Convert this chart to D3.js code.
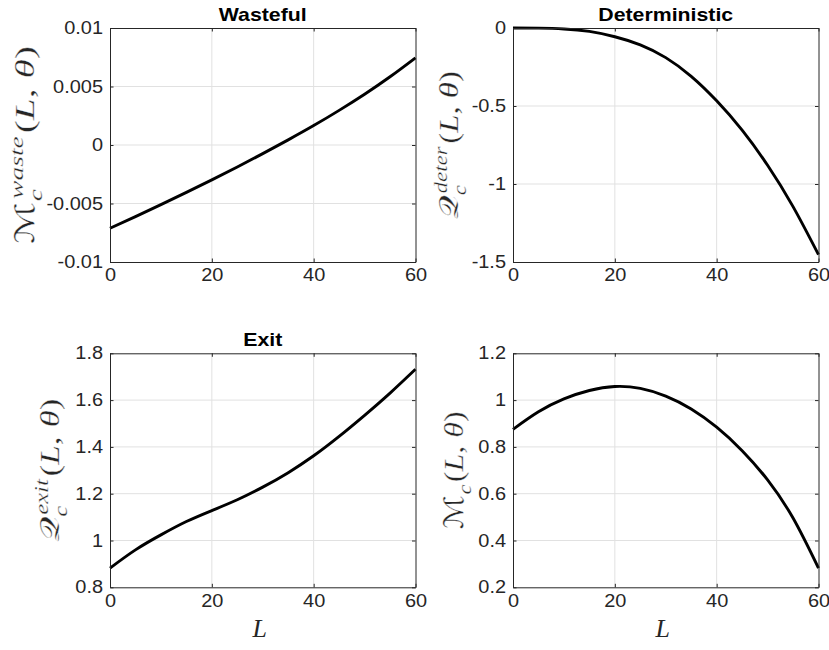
<!DOCTYPE html>
<html><head><meta charset="utf-8">
<script src="https://cdn.jsdelivr.net/npm/d3@7"></script>
<style>body{margin:0;background:#fff}</style>
</head><body>
<svg id="c" width="829" height="650" xmlns="http://www.w3.org/2000/svg"></svg>
<script>
// ---- data ----
const Lvals = [0, 5, 10, 15, 20, 25, 30, 35, 40, 45, 50, 55, 60];
const wasteful = [-0.00712, -0.00612, -0.00510, -0.00405, -0.00298, -0.00188, -0.00074, 0.00044, 0.00166, 0.00296, 0.00434, 0.00583, 0.00745];
const deterministic = [0, -0.001, -0.006, -0.022, -0.056, -0.108, -0.190, -0.310, -0.467, -0.655, -0.880, -1.145, -1.453];
const exitVals = [0.882, 0.960, 1.024, 1.081, 1.128, 1.174, 1.228, 1.290, 1.362, 1.445, 1.535, 1.630, 1.732];
const totalVals = [0.875, 0.950, 1.005, 1.041, 1.058, 1.050, 1.017, 0.962, 0.884, 0.784, 0.659, 0.496, 0.282];
const xTicks = [0, 20, 40, 60];
const xTickLabels = ["0", "20", "40", "60"];
const yTicksWaste = [-0.01, -0.005, 0, 0.005, 0.01];
const yLabelsWaste = ["-0.01", "-0.005", "0", "0.005", "0.01"];
const yTicksDeter = [-1.5, -1, -0.5, 0];
const yLabelsDeter = ["-1.5", "-1", "-0.5", "0"];
const yTicksExit = [0.8, 1, 1.2, 1.4, 1.6, 1.8];
const yLabelsExit = ["0.8", "1", "1.2", "1.4", "1.6", "1.8"];
const yTicksTotal = [0.2, 0.4, 0.6, 0.8, 1, 1.2];
const yLabelsTotal = ["0.2", "0.4", "0.6", "0.8", "1", "1.2"];
const titles = ["Wasteful", "Deterministic", "Exit", ""];
const xAxisLabel = "L";

// ---- layout ----
const W = 305.5, H = 234;
const panels = [
  {left: 110, top: 28, vals: wasteful, dom: [-0.01, 0.01], ticks: yTicksWaste, labels: yLabelsWaste, title: titles[0],
   ylab: {main: "\u2133", sub: "c", sup: "waste"}, ylabRight: 46, ylabLen: 198, xlab: false},
  {left: 513, top: 28, vals: deterministic, dom: [-1.5, 0], ticks: yTicksDeter, labels: yLabelsDeter, title: titles[1],
   ylab: {main: "\uD835\uDCAC", sub: "c", sup: "deter"}, ylabRight: 470, ylabLen: 148, xlab: false},
  {left: 110, top: 353.3, vals: exitVals, dom: [0.8, 1.8], ticks: yTicksExit, labels: yLabelsExit, title: titles[2],
   ylab: {main: "\uD835\uDCAC", sub: "c", sup: "exit"}, ylabRight: 71, ylabLen: 144, xlab: true},
  {left: 513, top: 353.3, vals: totalVals, dom: [0.2, 1.2], ticks: yTicksTotal, labels: yLabelsTotal, title: titles[3],
   ylab: {main: "\u2133", sub: "c", sup: null}, ylabRight: 475, ylabLen: 118, xlab: true}
];

const svg = d3.select("#c");
const AX = "#262626";
const TICKFONT = '17.5px "Liberation Sans", Arial, sans-serif';

function stretch(sel, k) {
  sel.each(function () {
    const len = this.getComputedTextLength();
    this.setAttribute("textLength", len * k);
    this.setAttribute("lengthAdjust", "spacingAndGlyphs");
  });
}

function mathLabel(spec, rightX, cy, targetLen) {
  const F = 27;
  const outer = svg.append("g");
  const inner = outer.append("g").attr("fill", AX).attr("stroke", "#fff").attr("stroke-width", 0.3);
  const mainT = inner.append("text").attr("x", 0).attr("y", 0)
    .style("font", `${F}px "DejaVu Serif", "DejaVu Sans", serif`).text(spec.main);
  const w1 = mainT.node().getComputedTextLength();
  let end = w1;
  const sub = inner.append("text").attr("x", w1 + 0.5).attr("y", F * 0.28)
    .style("font", `italic ${F * 0.7}px "Liberation Serif", serif`).text(spec.sub);
  end = Math.max(end, w1 + 0.5 + sub.node().getComputedTextLength());
  if (spec.sup) {
    const sup = inner.append("text").attr("x", w1 + 2).attr("y", -F * 0.42)
      .style("font", `italic ${F * 0.7}px "Liberation Serif", serif`).text(spec.sup);
    end = Math.max(end, w1 + 2 + sup.node().getComputedTextLength());
  }
  const p = inner.append("text").attr("x", end + 2).attr("y", 0)
    .style("font", `${F}px "Liberation Serif", serif`);
  p.append("tspan").text("(");
  p.append("tspan").style("font-style", "italic").text("L");
  p.append("tspan").text(", ");
  p.append("tspan").style("font-style", "italic").text("\u03B8");
  p.append("tspan").text(")");
  const b = inner.node().getBBox();
  const k = targetLen / b.width;
  outer.attr("transform",
    `translate(${rightX},${cy}) rotate(-90) scale(${k},1) translate(${-(b.x + b.width / 2)},${-(b.y + b.height)})`);
}

const x = d3.scaleLinear().domain([0, 60]).range([0, W]);

panels.forEach(pn => {
  const y = d3.scaleLinear().domain(pn.dom).range([H, 0]);
  const g = svg.append("g").attr("transform", `translate(${pn.left},${pn.top})`);

  // grid
  g.append("g").selectAll("line").data(xTicks.slice(1, -1)).join("line")
    .attr("x1", d => x(d)).attr("x2", d => x(d)).attr("y1", 0).attr("y2", H)
    .attr("stroke", "#e1e1e1").attr("stroke-width", 1);
  g.append("g").selectAll("line").data(pn.ticks.slice(1, -1)).join("line")
    .attr("x1", 0).attr("x2", W).attr("y1", d => y(d)).attr("y2", d => y(d))
    .attr("stroke", "#e1e1e1").attr("stroke-width", 1);

  // curve
  const line = d3.line().x((d, i) => x(Lvals[i])).y(d => y(d)).curve(d3.curveNatural);
  g.append("path").datum(pn.vals).attr("d", line).attr("fill", "none")
    .attr("stroke", "#000").attr("stroke-width", 2.9).attr("stroke-linejoin", "round");

  // axes
  const bottom = g.append("g").attr("transform", `translate(0,${H})`)
    .call(d3.axisBottom(x).tickValues(xTicks).tickFormat((d, i) => xTickLabels[i]).tickSizeInner(-3.5).tickSizeOuter(0).tickPadding(7));
  const left = g.append("g")
    .call(d3.axisLeft(y).tickValues(pn.ticks).tickFormat((d, i) => pn.labels[i]).tickSizeInner(-3.5).tickSizeOuter(0).tickPadding(7));
  const top = g.append("g")
    .call(d3.axisTop(x).tickValues(xTicks).tickFormat("").tickSizeInner(-3.5).tickSizeOuter(0));
  const right = g.append("g").attr("transform", `translate(${W},0)`)
    .call(d3.axisRight(y).tickValues(pn.ticks).tickFormat("").tickSizeInner(-3.5).tickSizeOuter(0));
  [bottom, left, top, right].forEach(a => {
    a.selectAll(".domain").attr("stroke", AX).attr("stroke-width", 1);
    a.selectAll(".tick line").attr("stroke", AX).attr("stroke-width", 1);
    a.selectAll("text").style("font", TICKFONT).attr("fill", AX);
  });
  stretch(bottom.selectAll("text"), 1.14);
  stretch(left.selectAll("text"), 1.14);

  if (pn.title) {
    const t = g.append("text").attr("x", W / 2).attr("y", -7).attr("text-anchor", "middle")
      .style("font", 'bold 19px "Liberation Sans", Arial, sans-serif').attr("fill", "#000").text(pn.title);
    stretch(t, 1.12);
  }
  if (pn.xlab) {
    g.append("text").attr("x", W / 2 - 3).attr("y", H + 50).attr("text-anchor", "middle")
      .style("font", 'italic 26px "Liberation Serif", serif').attr("fill", AX).text(xAxisLabel);
  }
  mathLabel(pn.ylab, pn.ylabRight, pn.top + H / 2, pn.ylabLen);
});
</script>
</body></html>
